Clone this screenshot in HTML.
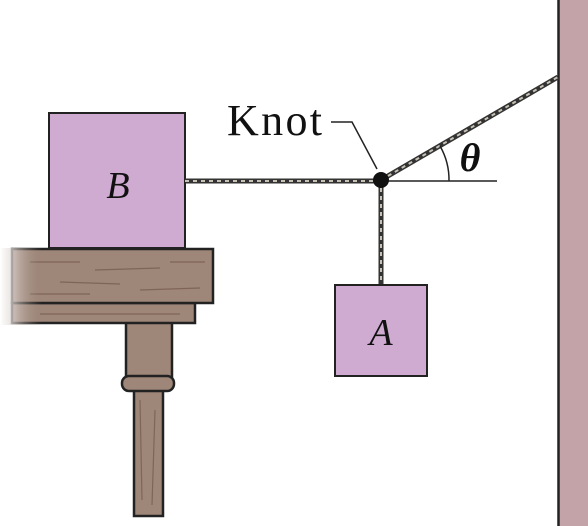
<!DOCTYPE html>
<html><head><meta charset="utf-8"><style>
html,body{margin:0;padding:0;background:#fff;width:588px;height:526px;overflow:hidden}
</style></head><body>
<svg width="588" height="526" viewBox="0 0 588 526" xmlns="http://www.w3.org/2000/svg">
<defs>
<linearGradient id="fade" x1="0" x2="1" y1="0" y2="0">
<stop offset="0" stop-color="#fff"/><stop offset="0.7" stop-color="#9a8276" stop-opacity="0"/>
</linearGradient>
</defs>
<g>
<rect x="558" y="0" width="30" height="526" fill="#c4a3a8"/>
<line x1="558.5" y1="0" x2="558.5" y2="526" stroke="#222" stroke-width="2.5"/>
</g>
<g>
<rect x="134" y="390" width="29" height="126" fill="#9e8679" stroke="#222" stroke-width="2.5"/>
<rect x="126" y="322" width="46" height="56" fill="#9e8679" stroke="#222" stroke-width="2.5"/>
<rect x="122" y="376" width="52" height="15" rx="7" fill="#9e8679" stroke="#222" stroke-width="2.5"/>
<rect x="12" y="303" width="183" height="20" fill="#9e8679" stroke="#222" stroke-width="2.5"/>
<rect x="12" y="249" width="201" height="54" fill="#9e8679" stroke="#222" stroke-width="2.5"/>
<g stroke="#7e6558" stroke-width="1.2">
<line x1="30" y1="262" x2="80" y2="262"/><line x1="95" y1="270" x2="160" y2="268"/><line x1="60" y1="282" x2="120" y2="284"/>
<line x1="140" y1="290" x2="200" y2="288"/><line x1="30" y1="294" x2="90" y2="294"/><line x1="170" y1="262" x2="205" y2="262"/>
<line x1="40" y1="314" x2="180" y2="314"/><line x1="140" y1="400" x2="142" y2="500"/><line x1="155" y1="410" x2="152" y2="505"/>
</g>
<rect x="0" y="248" width="60" height="77" fill="url(#fade)"/>
</g>
<rect x="49" y="113" width="136" height="135" fill="#cfaad1" stroke="#222" stroke-width="2"/>
<text x="118" y="198" font-family="Liberation Serif, serif" font-style="italic" font-size="38" text-anchor="middle" fill="#111">B</text>
<g>
<line x1="185" y1="181" x2="381" y2="181" stroke="#333" stroke-width="5"/>
<line x1="185" y1="181" x2="381" y2="181" stroke="#c8c2b4" stroke-width="2" stroke-dasharray="4 4"/>
<line x1="381" y1="180" x2="558" y2="77" stroke="#333" stroke-width="5"/>
<line x1="381" y1="180" x2="558" y2="77" stroke="#c8c2b4" stroke-width="2" stroke-dasharray="4 4"/>
<line x1="381" y1="180" x2="381" y2="286" stroke="#333" stroke-width="5"/>
<line x1="381" y1="180" x2="381" y2="286" stroke="#c8c2b4" stroke-width="2" stroke-dasharray="4 4"/>
</g>
<rect x="335" y="285" width="92" height="91" fill="#cfaad1" stroke="#222" stroke-width="2"/>
<text x="381" y="345" font-family="Liberation Serif, serif" font-style="italic" font-size="38" text-anchor="middle" fill="#111">A</text>
<line x1="381" y1="181" x2="497" y2="181" stroke="#222" stroke-width="1.5"/>
<path d="M449 181 A68 68 0 0 0 440 146" fill="none" stroke="#222" stroke-width="1.5"/>
<text x="470" y="171" font-family="Liberation Serif, serif" font-style="italic" font-weight="bold" font-size="40" text-anchor="middle" fill="#111">θ</text>
<circle cx="381" cy="180" r="8" fill="#111"/>
<text x="227" y="135" font-family="Liberation Serif, serif" font-size="44" textLength="95" fill="#111">Knot</text>
<polyline points="331,122 352,122 377,169" fill="none" stroke="#222" stroke-width="1.5"/>
</svg>
</body></html>
